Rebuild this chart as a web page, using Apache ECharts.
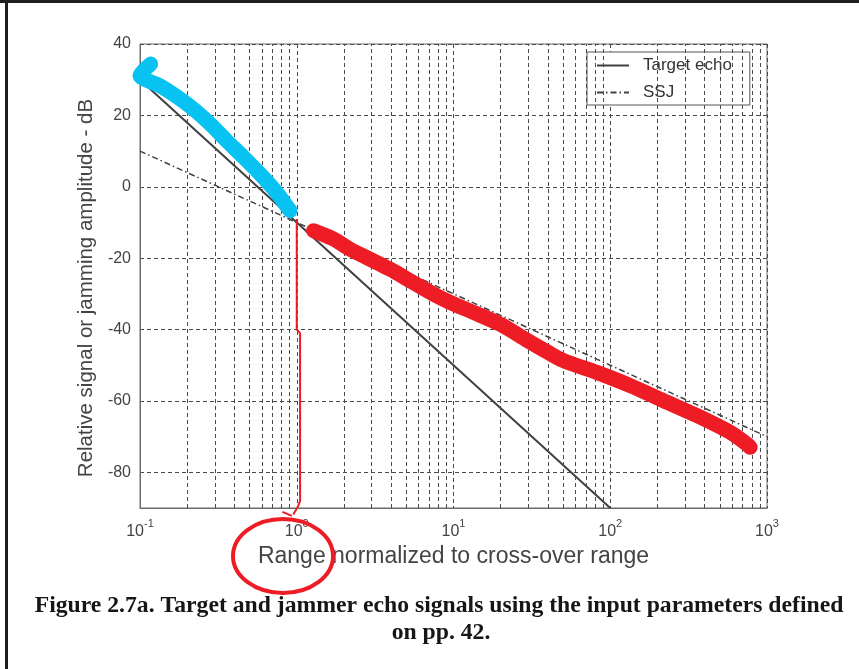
<!DOCTYPE html>
<html>
<head>
<meta charset="utf-8">
<script src="https://cdn.jsdelivr.net/npm/echarts@6/dist/echarts.min.js"></script>
<style>
  html, body { margin: 0; padding: 0; background: #fff; }
  #chart { width: 859px; height: 669px; }
</style>
</head>
<body>
<div id="chart"></div>
<script>
// Normalised range (log scale) and relative level in dB
const targetEchoX = [0.1, 1, 10, 100];
const targetEchoY = [30, -10, -50, -90];
const ssjX = [0.1, 1, 10, 100, 1000];
const ssjY = [10, -10, -30, -50, -70];

// Hand-drawn highlight strokes
const blueMarkX = [0.117, 0.106, 0.1, 0.134, 0.17, 0.219, 0.28, 0.357, 0.46, 0.583, 0.75, 0.906];
const blueMarkY = [34.4, 32.6, 31.2, 28.3, 25.4, 21.8, 17.6, 12.9, 8.2, 3.6, -1.8, -6.7];
const redMarkX = [1.28, 1.71, 2.19, 2.94, 3.94, 5.28, 7.45, 9.5, 13.4, 19.8, 30, 39.4, 50.3, 82, 134, 218, 357, 582, 743, 781];
const redMarkY = [-12.3, -14.6, -17.5, -20.3, -23.1, -26.3, -30.1, -32.4, -35.2, -38.5, -43.2, -46.2, -48.7, -52, -55.7, -59.9, -64.1, -68.8, -72.1, -73];
const redPenX = [1.0, 1.0, 1.05, 1.05, 1.02, 0.95];
const redPenY = [-9, -40, -41, -88, -89.5, -91.8];
const redTickX = [0.81, 0.93];
const redTickY = [-91.1, -92.2];

// Axis ticks
const decades = [0.1, 1, 10, 100];
const minorSteps = [2, 3, 4, 5, 6, 7, 8, 9];

const pairs = (xs, ys) => xs.map((x, i) => [x, ys[i]]);
const minorX = [];
decades.forEach(d => minorSteps.forEach(m => minorX.push(+(d * m).toPrecision(3))));

const gridDash = { type: [4, 3], color: '#4a4a4a', width: 1 };
const labelFont = 'Liberation Sans';

const chart = echarts.init(document.getElementById('chart'), null, { renderer: 'canvas' });
chart.setOption({
  animation: false,
  backgroundColor: '#fff',
  grid: {
    left: 140, right: 92, top: 44, bottom: 161,
    show: true, borderColor: '#6a6a6a', borderWidth: 1, backgroundColor: 'transparent'
  },
  legend: {
    data: ['Target echo', 'SSJ'],
    orient: 'vertical',
    left: 587, top: 52,
    padding: [5, 18, 4, 9],
    itemWidth: 32, itemHeight: 14, itemGap: 10,
    backgroundColor: '#fff',
    borderColor: '#555', borderWidth: 1,
    itemStyle: { color: 'rgba(0,0,0,0)', borderWidth: 0 },
    textStyle: { fontFamily: labelFont, fontSize: 17, color: '#333', lineHeight: 14, padding: [0, 0, 0, 9] }
  },
  xAxis: {
    type: 'log', logBase: 10, min: 0.1, max: 1000,
    name: 'Range normalized to cross-over range',
    nameLocation: 'middle', nameGap: 35,
    nameTextStyle: { fontFamily: labelFont, fontSize: 23, color: '#444' },
    axisLine: { show: true, onZero: false, lineStyle: { color: '#6a6a6a' } },
    axisTick: { show: false },
    splitLine: { show: true, lineStyle: gridDash },
    axisLabel: {
      margin: 10,
      formatter: v => '{b|10}{s|' + Math.round(Math.log10(v)) + '}',
      rich: {
        b: { fontFamily: labelFont, fontSize: 16, color: '#444', lineHeight: 22, verticalAlign: 'bottom' },
        s: { fontFamily: labelFont, fontSize: 11, color: '#444', lineHeight: 11, verticalAlign: 'top' }
      }
    }
  },
  yAxis: {
    type: 'value', min: -90, max: 40, splitNumber: 7,
    name: 'Relative signal or jamming amplitude - dB',
    nameLocation: 'middle', nameGap: 42,
    nameTextStyle: { fontFamily: labelFont, fontSize: 20.5, color: '#444', padding: [0, 24, 0, 0] },
    axisLine: { show: true, onZero: false, lineStyle: { color: '#6a6a6a' } },
    axisTick: { show: false },
    splitLine: { show: true, lineStyle: gridDash },
    axisLabel: { showMinLabel: false, margin: 9, fontFamily: labelFont, fontSize: 16, color: '#444' }
  },
  series: [
    {
      name: 'minor grid', type: 'line', data: [], z: 1, silent: true,
      markLine: {
        silent: true, symbol: 'none', animation: false,
        label: { show: false },
        lineStyle: gridDash,
        data: minorX.map(x => ({ xAxis: x }))
      }
    },
    {
      name: 'Target echo', type: 'line', data: pairs(targetEchoX, targetEchoY),
      symbol: 'none', z: 3,
      lineStyle: { color: '#404040', width: 2 }, itemStyle: { color: '#404040' }
    },
    {
      name: 'SSJ', type: 'line', data: pairs(ssjX, ssjY),
      symbol: 'none', z: 3,
      lineStyle: { color: '#404040', width: 1.5, type: [6, 3, 1.5, 3] }, itemStyle: { color: '#404040' }
    },
    {
      name: 'blue mark', type: 'line', data: pairs(blueMarkX, blueMarkY),
      symbol: 'none', smooth: 0.3, z: 5, clip: false,
      lineStyle: { color: '#08c3f2', width: 15, cap: 'round', join: 'round' }
    },
    {
      name: 'red mark', type: 'line', data: pairs(redMarkX, redMarkY),
      symbol: 'none', smooth: 0.3, z: 5, clip: false,
      lineStyle: { color: '#ee1c25', width: 15, cap: 'round', join: 'round' }
    },
    {
      name: 'red pen', type: 'line', data: pairs(redPenX, redPenY),
      symbol: 'none', z: 5, clip: false,
      lineStyle: { color: '#ee1c25', width: 2 }
    },
    {
      name: 'red tick', type: 'line', data: pairs(redTickX, redTickY),
      symbol: 'none', z: 5, clip: false,
      lineStyle: { color: '#ee1c25', width: 2 }
    }
  ],
  graphic: [
    { type: 'rect', shape: { x: 0, y: 0, width: 859, height: 3 }, style: { fill: '#1e1e1e' }, silent: true },
    { type: 'rect', shape: { x: 5, y: 0, width: 3, height: 669 }, style: { fill: '#1e1e1e' }, silent: true },
    {
      type: 'ellipse', shape: { cx: 283, cy: 556, rx: 50, ry: 37 },
      style: { fill: 'none', stroke: '#ee1c25', lineWidth: 4 }, z: 10, silent: true
    },
    {
      type: 'text', x: 439, y: 606, silent: true,
      style: {
        text: 'Figure 2.7a. Target and jammer echo signals using the input parameters defined',
        font: 'bold 23.7px "Liberation Serif"', fill: '#161616', align: 'center', verticalAlign: 'middle'
      }
    },
    {
      type: 'text', x: 441, y: 633, silent: true,
      style: {
        text: 'on pp. 42.',
        font: 'bold 23.7px "Liberation Serif"', fill: '#161616', align: 'center', verticalAlign: 'middle'
      }
    }
  ]
});
</script>
</body>
</html>
